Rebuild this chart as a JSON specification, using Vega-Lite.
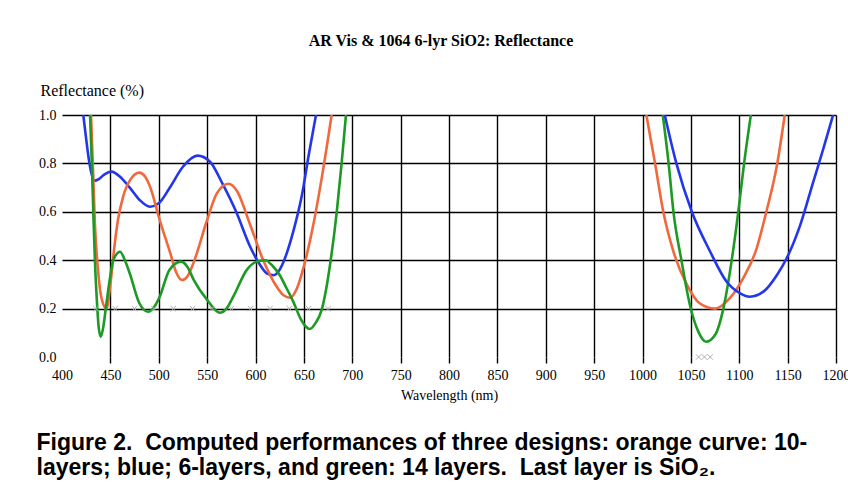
{
  "$schema": "https://vega.github.io/schema/vega-lite/v6.json",
  "padding": {"left": 36, "top": 33, "right": 0, "bottom": 5},
  "background": "white",
  "config": {
    "view": {"stroke": null},
    "font": "Liberation Serif"
  },
  "title": {
    "text": ["Figure 2.\u00a0 Computed performances of three designs: orange curve: 10-", "layers; blue; 6-layers, and green: 14 layers.\u00a0 Last layer is SiO₂."],
    "orient": "bottom",
    "anchor": "start",
    "font": "Liberation Sans",
    "fontSize": 23,
    "fontWeight": "bold",
    "color": "#000",
    "lineHeight": 25,
    "offset": 30,
    "dx": -2
  },
  "vconcat": [
    {
      "width": 774,
      "height": 242,
      "title": {
        "text": "AR Vis & 1064 6-lyr SiO2: Reflectance",
        "font": "Liberation Serif",
        "fontSize": 16,
        "fontWeight": "bold",
        "color": "#000",
        "anchor": "middle",
        "dx": -8,
        "offset": 33
      },
      "layer": [
        {
          "data": {
            "values": [
              {"design": "blue", "seg": "vis", "wl": 422, "r": 1.0},
              {"design": "blue", "seg": "vis", "wl": 425, "r": 0.9},
              {"design": "blue", "seg": "vis", "wl": 428, "r": 0.81},
              {"design": "blue", "seg": "vis", "wl": 431, "r": 0.75},
              {"design": "blue", "seg": "vis", "wl": 434, "r": 0.728},
              {"design": "blue", "seg": "vis", "wl": 438, "r": 0.735},
              {"design": "blue", "seg": "vis", "wl": 444, "r": 0.755},
              {"design": "blue", "seg": "vis", "wl": 451, "r": 0.766},
              {"design": "blue", "seg": "vis", "wl": 460, "r": 0.745},
              {"design": "blue", "seg": "vis", "wl": 470, "r": 0.70},
              {"design": "blue", "seg": "vis", "wl": 480, "r": 0.65},
              {"design": "blue", "seg": "vis", "wl": 491, "r": 0.621},
              {"design": "blue", "seg": "vis", "wl": 500, "r": 0.635},
              {"design": "blue", "seg": "vis", "wl": 511, "r": 0.697},
              {"design": "blue", "seg": "vis", "wl": 525, "r": 0.786},
              {"design": "blue", "seg": "vis", "wl": 540, "r": 0.832},
              {"design": "blue", "seg": "vis", "wl": 553, "r": 0.807},
              {"design": "blue", "seg": "vis", "wl": 566, "r": 0.715},
              {"design": "blue", "seg": "vis", "wl": 580, "r": 0.6},
              {"design": "blue", "seg": "vis", "wl": 594, "r": 0.46},
              {"design": "blue", "seg": "vis", "wl": 604, "r": 0.385},
              {"design": "blue", "seg": "vis", "wl": 612, "r": 0.345},
              {"design": "blue", "seg": "vis", "wl": 619, "r": 0.338},
              {"design": "blue", "seg": "vis", "wl": 624, "r": 0.355},
              {"design": "blue", "seg": "vis", "wl": 629, "r": 0.394},
              {"design": "blue", "seg": "vis", "wl": 639, "r": 0.518},
              {"design": "blue", "seg": "vis", "wl": 648, "r": 0.669},
              {"design": "blue", "seg": "vis", "wl": 655, "r": 0.835},
              {"design": "blue", "seg": "vis", "wl": 662.5, "r": 1.0},
              {"design": "orange", "seg": "vis", "wl": 430, "r": 1.0},
              {"design": "orange", "seg": "vis", "wl": 432, "r": 0.78},
              {"design": "orange", "seg": "vis", "wl": 434, "r": 0.55},
              {"design": "orange", "seg": "vis", "wl": 437, "r": 0.37},
              {"design": "orange", "seg": "vis", "wl": 441, "r": 0.24},
              {"design": "orange", "seg": "vis", "wl": 446, "r": 0.2},
              {"design": "orange", "seg": "vis", "wl": 450, "r": 0.3},
              {"design": "orange", "seg": "vis", "wl": 454, "r": 0.45},
              {"design": "orange", "seg": "vis", "wl": 458, "r": 0.57},
              {"design": "orange", "seg": "vis", "wl": 463, "r": 0.66},
              {"design": "orange", "seg": "vis", "wl": 471, "r": 0.735},
              {"design": "orange", "seg": "vis", "wl": 480, "r": 0.762},
              {"design": "orange", "seg": "vis", "wl": 486, "r": 0.745},
              {"design": "orange", "seg": "vis", "wl": 491, "r": 0.704},
              {"design": "orange", "seg": "vis", "wl": 501, "r": 0.566},
              {"design": "orange", "seg": "vis", "wl": 512, "r": 0.428},
              {"design": "orange", "seg": "vis", "wl": 518, "r": 0.35},
              {"design": "orange", "seg": "vis", "wl": 524, "r": 0.318},
              {"design": "orange", "seg": "vis", "wl": 530, "r": 0.335},
              {"design": "orange", "seg": "vis", "wl": 536, "r": 0.39},
              {"design": "orange", "seg": "vis", "wl": 550, "r": 0.566},
              {"design": "orange", "seg": "vis", "wl": 560, "r": 0.676},
              {"design": "orange", "seg": "vis", "wl": 572, "r": 0.716},
              {"design": "orange", "seg": "vis", "wl": 581, "r": 0.685},
              {"design": "orange", "seg": "vis", "wl": 594, "r": 0.552},
              {"design": "orange", "seg": "vis", "wl": 608, "r": 0.40},
              {"design": "orange", "seg": "vis", "wl": 622, "r": 0.29},
              {"design": "orange", "seg": "vis", "wl": 629, "r": 0.255},
              {"design": "orange", "seg": "vis", "wl": 636, "r": 0.245},
              {"design": "orange", "seg": "vis", "wl": 643, "r": 0.285},
              {"design": "orange", "seg": "vis", "wl": 649.4, "r": 0.366},
              {"design": "orange", "seg": "vis", "wl": 659.7, "r": 0.545},
              {"design": "orange", "seg": "vis", "wl": 668.4, "r": 0.738},
              {"design": "orange", "seg": "vis", "wl": 678.7, "r": 1.0},
              {"design": "green", "seg": "vis", "wl": 429, "r": 1.0},
              {"design": "green", "seg": "vis", "wl": 431, "r": 0.78},
              {"design": "green", "seg": "vis", "wl": 432.5, "r": 0.58},
              {"design": "green", "seg": "vis", "wl": 434, "r": 0.40},
              {"design": "green", "seg": "vis", "wl": 436, "r": 0.236},
              {"design": "green", "seg": "vis", "wl": 438, "r": 0.12},
              {"design": "green", "seg": "vis", "wl": 440, "r": 0.084},
              {"design": "green", "seg": "vis", "wl": 442.5, "r": 0.12},
              {"design": "green", "seg": "vis", "wl": 445.5, "r": 0.208},
              {"design": "green", "seg": "vis", "wl": 449, "r": 0.31},
              {"design": "green", "seg": "vis", "wl": 453, "r": 0.40},
              {"design": "green", "seg": "vis", "wl": 460, "r": 0.435},
              {"design": "green", "seg": "vis", "wl": 465, "r": 0.40},
              {"design": "green", "seg": "vis", "wl": 470, "r": 0.346},
              {"design": "green", "seg": "vis", "wl": 480, "r": 0.222},
              {"design": "green", "seg": "vis", "wl": 489, "r": 0.187},
              {"design": "green", "seg": "vis", "wl": 494, "r": 0.2},
              {"design": "green", "seg": "vis", "wl": 501, "r": 0.249},
              {"design": "green", "seg": "vis", "wl": 511, "r": 0.36},
              {"design": "green", "seg": "vis", "wl": 523, "r": 0.394},
              {"design": "green", "seg": "vis", "wl": 530, "r": 0.37},
              {"design": "green", "seg": "vis", "wl": 536, "r": 0.32},
              {"design": "green", "seg": "vis", "wl": 550, "r": 0.236},
              {"design": "green", "seg": "vis", "wl": 563, "r": 0.183},
              {"design": "green", "seg": "vis", "wl": 570, "r": 0.2},
              {"design": "green", "seg": "vis", "wl": 577, "r": 0.249},
              {"design": "green", "seg": "vis", "wl": 591, "r": 0.36},
              {"design": "green", "seg": "vis", "wl": 600, "r": 0.392},
              {"design": "green", "seg": "vis", "wl": 610, "r": 0.40},
              {"design": "green", "seg": "vis", "wl": 618, "r": 0.375},
              {"design": "green", "seg": "vis", "wl": 625, "r": 0.339},
              {"design": "green", "seg": "vis", "wl": 632, "r": 0.285},
              {"design": "green", "seg": "vis", "wl": 639, "r": 0.229},
              {"design": "green", "seg": "vis", "wl": 647, "r": 0.155},
              {"design": "green", "seg": "vis", "wl": 656, "r": 0.116},
              {"design": "green", "seg": "vis", "wl": 662, "r": 0.14},
              {"design": "green", "seg": "vis", "wl": 668.4, "r": 0.195},
              {"design": "green", "seg": "vis", "wl": 673, "r": 0.28},
              {"design": "green", "seg": "vis", "wl": 677, "r": 0.38},
              {"design": "green", "seg": "vis", "wl": 684, "r": 0.60},
              {"design": "green", "seg": "vis", "wl": 689, "r": 0.80},
              {"design": "green", "seg": "vis", "wl": 693.5, "r": 1.0},
              {"design": "orange", "seg": "nir", "wl": 1004, "r": 1.0},
              {"design": "orange", "seg": "nir", "wl": 1013, "r": 0.80},
              {"design": "orange", "seg": "nir", "wl": 1021.5, "r": 0.60},
              {"design": "orange", "seg": "nir", "wl": 1032, "r": 0.435},
              {"design": "orange", "seg": "nir", "wl": 1046, "r": 0.298},
              {"design": "orange", "seg": "nir", "wl": 1059, "r": 0.222},
              {"design": "orange", "seg": "nir", "wl": 1075, "r": 0.20},
              {"design": "orange", "seg": "nir", "wl": 1090, "r": 0.242},
              {"design": "orange", "seg": "nir", "wl": 1104, "r": 0.325},
              {"design": "orange", "seg": "nir", "wl": 1118, "r": 0.449},
              {"design": "orange", "seg": "nir", "wl": 1128, "r": 0.60},
              {"design": "orange", "seg": "nir", "wl": 1139, "r": 0.793},
              {"design": "orange", "seg": "nir", "wl": 1147, "r": 1.0},
              {"design": "green", "seg": "nir", "wl": 1021, "r": 1.0},
              {"design": "green", "seg": "nir", "wl": 1027, "r": 0.80},
              {"design": "green", "seg": "nir", "wl": 1032, "r": 0.60},
              {"design": "green", "seg": "nir", "wl": 1040.5, "r": 0.394},
              {"design": "green", "seg": "nir", "wl": 1049, "r": 0.215},
              {"design": "green", "seg": "nir", "wl": 1057.7, "r": 0.105},
              {"design": "green", "seg": "nir", "wl": 1065.6, "r": 0.063},
              {"design": "green", "seg": "nir", "wl": 1075, "r": 0.091},
              {"design": "green", "seg": "nir", "wl": 1083.6, "r": 0.201},
              {"design": "green", "seg": "nir", "wl": 1092, "r": 0.394},
              {"design": "green", "seg": "nir", "wl": 1099, "r": 0.60},
              {"design": "green", "seg": "nir", "wl": 1105, "r": 0.80},
              {"design": "green", "seg": "nir", "wl": 1112, "r": 1.0},
              {"design": "blue", "seg": "nir", "wl": 1023, "r": 1.0},
              {"design": "blue", "seg": "nir", "wl": 1035, "r": 0.80},
              {"design": "blue", "seg": "nir", "wl": 1051, "r": 0.60},
              {"design": "blue", "seg": "nir", "wl": 1070, "r": 0.435},
              {"design": "blue", "seg": "nir", "wl": 1087, "r": 0.311},
              {"design": "blue", "seg": "nir", "wl": 1101, "r": 0.263},
              {"design": "blue", "seg": "nir", "wl": 1111, "r": 0.249},
              {"design": "blue", "seg": "nir", "wl": 1125, "r": 0.27},
              {"design": "blue", "seg": "nir", "wl": 1139, "r": 0.339},
              {"design": "blue", "seg": "nir", "wl": 1149, "r": 0.408},
              {"design": "blue", "seg": "nir", "wl": 1163, "r": 0.545},
              {"design": "blue", "seg": "nir", "wl": 1176.5, "r": 0.724},
              {"design": "blue", "seg": "nir", "wl": 1187, "r": 0.862},
              {"design": "blue", "seg": "nir", "wl": 1197, "r": 1.0}
            ]
          },
          "mark": {"type": "line", "strokeWidth": 2.6, "interpolate": "monotone", "clip": true},
          "encoding": {
            "x": {
              "field": "wl", "type": "quantitative",
              "scale": {"domain": [400, 1200], "nice": false, "zero": false},
              "axis": {
                "title": "Wavelength (nm)",
                "values": [400, 450, 500, 550, 600, 650, 700, 750, 800, 850, 900, 950, 1000, 1050, 1100, 1150, 1200],
                "format": "d",
                "grid": true,
                "gridColor": "#000",
                "gridWidth": 1.4,
                "gridOpacity": {"condition": {"test": "datum.value == 400", "value": 0}, "value": 1},
                "domain": false,
                "ticks": true,
                "tickColor": "#000",
                "tickWidth": 1.4,
                "tickSize": 6,
                "tickOpacity": {"condition": {"test": "datum.value == 400", "value": 0}, "value": 1},
                "labelFont": "Liberation Serif",
                "labelFontSize": 14,
                "labelColor": "#000",
                "labelPadding": 5,
                "labelFlush": false,
                "titleFont": "Liberation Serif",
                "titleFontSize": 14,
                "titleFontWeight": "normal",
                "titleColor": "#000",
                "titlePadding": 6
              }
            },
            "y": {
              "field": "r", "type": "quantitative",
              "scale": {"domain": [0, 1], "nice": false},
              "axis": {
                "title": "Reflectance (%)",
                "values": [0, 0.2, 0.4, 0.6, 0.8, 1.0],
                "format": ".1f",
                "grid": true,
                "gridColor": "#000",
                "gridWidth": 1.4,
                "gridOpacity": {"condition": {"test": "datum.value == 0", "value": 0}, "value": 1},
                "domain": false,
                "ticks": false,
                "labelFont": "Liberation Serif",
                "labelFontSize": 14,
                "labelColor": "#000",
                "labelPadding": 6,
                "labelFlush": false,
                "titleFont": "Liberation Serif",
                "titleFontSize": 16,
                "titleFontWeight": "normal",
                "titleColor": "#000",
                "titleAngle": 0,
                "titleAlign": "left",
                "titleBaseline": "middle",
                "titleX": -22,
                "titleY": -25
              }
            },
            "color": {
              "field": "design", "type": "nominal",
              "scale": {"domain": ["orange", "blue", "green"], "range": ["#f0683c", "#2436ec", "#1c9a24"]},
              "legend": null
            },
            "detail": {"field": "seg", "type": "nominal"}
          }
        },
        {
          "data": {
            "values": [
              {"wl": 435, "r": 0.2}, {"wl": 455, "r": 0.2}, {"wl": 475, "r": 0.2}, {"wl": 495, "r": 0.2},
              {"wl": 515, "r": 0.2}, {"wl": 535, "r": 0.2}, {"wl": 555, "r": 0.2}, {"wl": 575, "r": 0.2},
              {"wl": 595, "r": 0.2}, {"wl": 615, "r": 0.2}, {"wl": 635, "r": 0.2}, {"wl": 655, "r": 0.2},
              {"wl": 675, "r": 0.2},
              {"wl": 1058, "r": 0.0}, {"wl": 1064, "r": 0.0}, {"wl": 1070, "r": 0.0}
            ]
          },
          "mark": {"type": "point", "shape": "M-1,-1L1,1M-1,1L1,-1", "filled": false, "size": 30, "stroke": "#b0b0b0", "strokeWidth": 1, "opacity": 1, "clip": false},
          "encoding": {
            "x": {"field": "wl", "type": "quantitative"},
            "y": {"field": "r", "type": "quantitative"}
          }
        }
      ]
    }
  ]
}
